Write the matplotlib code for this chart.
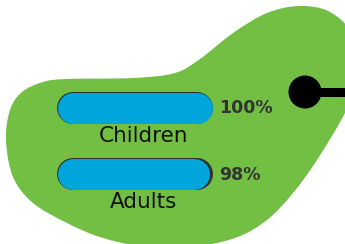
import numpy as np
import matplotlib
matplotlib.use('Agg')
import matplotlib.pyplot as plt
from matplotlib.path import Path
from matplotlib.patches import PathPatch, Circle

# data
groups = ['Children', 'Adults']
values = [100, 98]
value_labels = ['100%', '98%']

GREEN = '#72BF44'
BLUE = '#00A6DB'
TRACK = '#2E2E2E'

W, H = 345, 244
fig = plt.figure(figsize=(W / 100, H / 100), dpi=100)
fig.patch.set_facecolor('white')

# background layer in pixel units
ax = fig.add_axes([0, 0, 1, 1])
ax.set_xlim(0, W)
ax.set_ylim(H, 0)
ax.axis('off')

# green blob outline (closed catmull-rom through a few points)
pts = np.array([(43, 82), (67, 79), (133, 78), (175, 73), (200, 59), (233, 33),
                (267, 13), (300, 6), (330, 12), (352, 35), (358, 80), (345, 113),
                (317, 160), (293, 193), (267, 220), (235, 238), (190, 247),
                (140, 246), (100, 237), (67, 223), (33, 203), (13, 177),
                (6, 140), (10, 110), (22, 92)], dtype=float)
n = len(pts)
verts = [pts[0]]
codes = [Path.MOVETO]
for i in range(n):
    p0, p1, p2, p3 = pts[i - 1], pts[i], pts[(i + 1) % n], pts[(i + 2) % n]
    verts += [p1 + (p2 - p0) / 6, p2 - (p3 - p1) / 6, p2]
    codes += [Path.CURVE4] * 3
ax.add_patch(PathPatch(Path(verts, codes), facecolor=GREEN, edgecolor='none'))

# pin on the right
ax.plot([305, W + 5], [92, 92], color='black', lw=9 * 0.72, solid_capstyle='butt')
ax.add_patch(Circle((305, 92), 15.8, color='black'))

# bar layer: x in percent, y in category index
bar_h = 31  # px
x0, x1 = 57 + bar_h / 2, 212 - bar_h / 2
y_first, step = 107.5, 66.5
bx = fig.add_axes([x0 / W, 0, (x1 - x0) / W, 1])
bx.set_xlim(0, 100)
bx.set_ylim((H - y_first) / step, -y_first / step)
bx.axis('off')
bx.patch.set_alpha(0)

lw = bar_h * 0.72
for i, (g, v, lab) in enumerate(zip(groups, values, value_labels)):
    bx.plot([0, 100], [i, i], color=TRACK, lw=lw + 0.7, solid_capstyle='round', clip_on=False)
    bx.plot([0, v], [i, i], color=BLUE, lw=lw, solid_capstyle='round', clip_on=False)
    bx.annotate(lab, xy=(100, i), xytext=(bar_h / 2 + 7.5, -0.5), textcoords='offset pixels',
                ha='left', va='center', fontsize=12.5, fontweight='bold', color='#333333')
    bx.annotate(g, xy=(0, i), xytext=(144 - x0, -bar_h / 2 - 19), textcoords='offset pixels',
                ha='center', va='baseline', fontsize=15.5, color='#111111')

fig.savefig('out.png', dpi=100)
